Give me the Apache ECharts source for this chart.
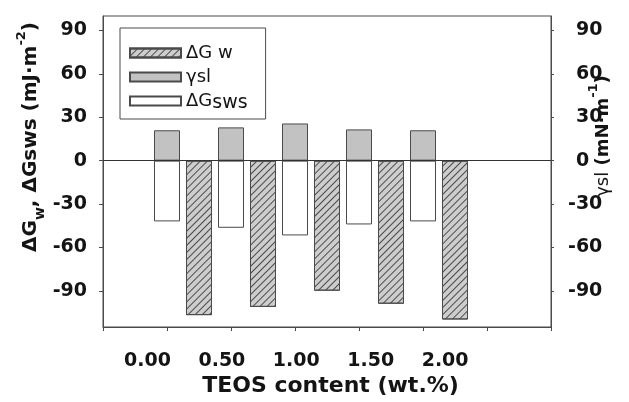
<!DOCTYPE html>
<html>
<head>
<meta charset="utf-8">
<script src="https://cdn.jsdelivr.net/npm/echarts@6/dist/echarts.min.js"></script>
<style>html,body{margin:0;padding:0;background:#fff}#c{width:629px;height:402px}</style>
</head>
<body>
<div id="c"></div>
<script>
// ---- data ----
const teosLabels = ['0.00', '0.50', '1.00', '1.50', '2.00'];
const gammaSL = [21, 23, 25.7, 21.6, 21];          // γsl (mN·m-1)
const deltaGsws = [-42, -46.4, -51.7, -44.1, -42];  // ΔGsws (mJ·m-2)
const deltaGw = [-106.8, -101.1, -89.9, -98.9, -109.8]; // ΔGw (mJ·m-2)
const yTickValues = [-90, -60, -30, 0, 30, 60, 90];

// slot layout on the bar axis (half-tick spacing)
const SLOTS = 15;
const slotNames = Array.from({length: SLOTS}, (_, i) => 's' + i);
function place(values, first) {
  const arr = new Array(SLOTS).fill(null);
  values.forEach((v, i) => { arr[first + 2 * i] = v; });
  return arr;
}

const FONT = 'DejaVu Sans';
const INK = '#141414';
const EDGE = '#4a4a4a';

const chart = echarts.init(document.getElementById('c'), null, {renderer: 'canvas'});

const titleRich = {
  n: {fontFamily: FONT, fontWeight: 'bold', fontSize: 20, lineHeight: 32, verticalAlign: 'middle', color: INK},
  r: {fontFamily: FONT, fontWeight: 'normal', fontSize: 19, lineHeight: 32, verticalAlign: 'middle', color: INK},
  sub: {fontFamily: FONT, fontWeight: 'bold', fontSize: 14, lineHeight: 20, verticalAlign: 'bottom', color: INK},
  sup: {fontFamily: FONT, fontWeight: 'bold', fontSize: 13, lineHeight: 20, verticalAlign: 'top', color: INK}
};

const option = {
  animation: false,
  backgroundColor: '#fff',
  grid: [
    {left: 103, width: 448, top: 16, height: 313.5, show: true, borderColor: EDGE, borderWidth: 1, backgroundColor: 'transparent'},
    {left: 110.3, width: 372, top: 16, height: 313.5, show: false}
  ],
  xAxis: [
    {
      type: 'category', gridIndex: 0, data: slotNames, boundaryGap: false,
      axisLine: {show: true, onZero: false, lineStyle: {color: EDGE, width: 1}},
      axisTick: {show: true, interval: 1, length: 4, lineStyle: {color: EDGE}},
      axisLabel: {show: false},
      splitLine: {show: false},
      name: 'TEOS content (wt.%)', nameLocation: 'middle', nameGap: 48,
      nameTextStyle: {fontFamily: FONT, fontWeight: 'bold', fontSize: 22, color: INK, padding: [0, 0, 0, 7]}
    },
    {
      type: 'category', gridIndex: 1, data: teosLabels, boundaryGap: true,
      axisLine: {show: false, onZero: false}, axisTick: {show: false}, splitLine: {show: false},
      axisLabel: {show: true, margin: 22, fontFamily: FONT, fontWeight: 'bold', fontSize: 19, color: INK}
    }
  ],
  yAxis: [
    {
      type: 'value', gridIndex: 0, min: -115, max: 100, position: 'left',
      axisLine: {show: true, lineStyle: {color: EDGE}},
      axisTick: {show: true, length: 4, customValues: yTickValues, lineStyle: {color: EDGE}},
      axisLabel: {show: true, customValues: yTickValues, margin: 16, fontFamily: FONT, fontWeight: 'bold', fontSize: 19, color: INK},
      splitLine: {show: false}
    },
    {
      type: 'value', gridIndex: 0, min: -115, max: 100, position: 'right',
      axisLine: {show: true, lineStyle: {color: EDGE}},
      axisTick: {show: true, length: 3, customValues: yTickValues, lineStyle: {color: EDGE}},
      axisLabel: {
        show: true, customValues: yTickValues, margin: 17, color: INK,
        formatter: v => v < 0 ? '{m|-}{d|' + (-v) + '}' : '{p|' + v + '}',
        rich: {
          m: {fontFamily: FONT, fontWeight: 'bold', fontSize: 19, color: INK},
          d: {fontFamily: FONT, fontWeight: 'bold', fontSize: 19, color: INK},
          p: {fontFamily: FONT, fontWeight: 'bold', fontSize: 19, color: INK, padding: [0, 0, 0, 8]}
        }
      },
      splitLine: {show: false}
    },
    {type: 'value', gridIndex: 1, show: false, min: -115, max: 100}
  ],
  legend: {
    orient: 'vertical', left: 120, top: 28,
    padding: [16, 18, 6, 9],
    itemWidth: 51, itemHeight: 9, itemGap: 6,
    backgroundColor: '#fff', borderColor: EDGE, borderWidth: 1, borderRadius: 0,
    icon: 'rect',
    data: ['ΔGw', 'γsl', 'ΔGsws'],
    formatter: name => ({
      'ΔGw': '{a|ΔG w}',
      'γsl': '{a|γsl}',
      'ΔGsws': '{a|ΔG}{s|sws}'
    }[name]),
    textStyle: {
      fontFamily: FONT, fontSize: 18, color: INK,
      rich: {
        a: {fontFamily: FONT, fontSize: 18, lineHeight: 24, verticalAlign: 'middle', color: INK},
        s: {fontFamily: FONT, fontSize: 19, lineHeight: 18, verticalAlign: 'bottom', color: INK}
      }
    }
  },
  graphic: [
    {
      type: 'text', x: 31, y: 137, rotation: Math.PI / 2, silent: true,
      style: {
        text: '{n|ΔG}{sub|w}{n|, ΔGsws (mJ·m}{sup|-2}{n|)}',
        rich: titleRich, align: 'center', verticalAlign: 'middle',
        fontFamily: FONT, fontWeight: 'bold', fontSize: 20, fill: INK
      }
    },
    {
      type: 'text', x: 603, y: 136, rotation: Math.PI / 2, silent: true,
      style: {
        text: '{r|γsl} {n|(mN·m}{sup|-1}{n|)}',
        rich: Object.assign({}, titleRich, {
          n: Object.assign({}, titleRich.n, {fontSize: 18}),
          r: Object.assign({}, titleRich.r, {fontSize: 18})
        }),
        align: 'center', verticalAlign: 'middle',
        fontFamily: FONT, fontWeight: 'bold', fontSize: 18, fill: INK
      }
    }
  ],
  series: [
    {
      name: 'γsl', type: 'bar', xAxisIndex: 0, yAxisIndex: 1,
      data: place(gammaSL, 2), barWidth: 26, barGap: '-100%',
      itemStyle: {color: '#c2c2c2', borderColor: EDGE, borderWidth: 1},
      markLine: {
        silent: true, symbol: 'none', label: {show: false},
        lineStyle: {color: '#333', type: 'solid', width: 1},
        data: [{yAxis: 0}]
      },
      z: 2
    },
    {
      name: 'ΔGsws', type: 'bar', xAxisIndex: 0, yAxisIndex: 0,
      data: place(deltaGsws, 2), barWidth: 26, barGap: '-100%',
      itemStyle: {color: '#ffffff', borderColor: EDGE, borderWidth: 1},
      z: 2
    },
    {
      name: 'ΔGw', type: 'bar', xAxisIndex: 0, yAxisIndex: 0,
      data: place(deltaGw, 3), barWidth: 26, barGap: '-100%',
      itemStyle: {
        color: '#cdcdcd', borderColor: EDGE, borderWidth: 1,
        decal: {
          symbol: 'rect', symbolSize: 1, symbolKeepAspect: false,
          color: '#4a4a4a', dashArrayX: [1, 0], dashArrayY: [1, 3.4],
          rotation: -Math.PI / 4
        }
      },
      z: 2
    }
  ]
};
chart.setOption(option);
</script>
</body>
</html>
